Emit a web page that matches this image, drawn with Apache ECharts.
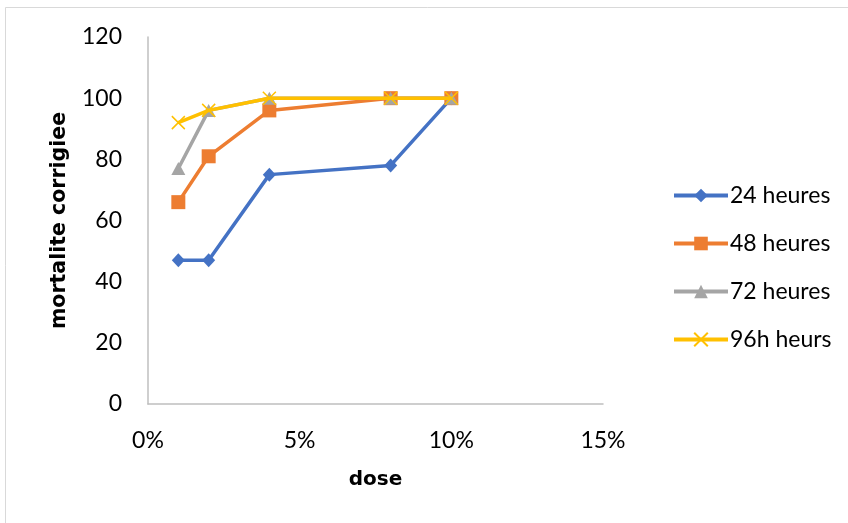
<!DOCTYPE html>
<html>
<head>
<meta charset="utf-8">
<script src="https://cdn.jsdelivr.net/npm/echarts@6/dist/echarts.min.js"></script>
<style>
  html, body { margin: 0; padding: 0; background: #fff; }
  #chart { width: 848px; height: 523px; }
</style>
</head>
<body>
<div id="chart"></div>
<script>
// Doses (fraction) and corrected mortality per exposure time
const doses = [0.01, 0.02, 0.04, 0.08, 0.10];
const h24 = [47, 47, 75, 78, 100];
const h48 = [66, 81, 96, 100, 100];
const h72 = [77, 96, 100, 100, 100];
const h96 = [92, 96, 100, 100, 100];
const seriesNames = ['24 heures', '48 heures', '72 heures', '96h heurs'];
const yTicks = [0, 20, 40, 60, 80, 100, 120];
const xTicks = [0, 0.05, 0.10, 0.15];

const FONT = 'Lato, "Open Sans", sans-serif';
const TITLE_FONT = '"DejaVu Sans", sans-serif';
const colors = ['#4472C4', '#ED7D31', '#A5A5A5', '#FFC000'];
const crossPath = 'path://M0,0L10,10M10,0L0,10';

function pairs(vals) {
  return doses.map((d, i) => [d, vals[i]]);
}

const chart = echarts.init(document.getElementById('chart'), null, { renderer: 'canvas' });

const symbols = ['diamond', 'rect', 'triangle', crossPath];
const sizes = [[13, 14], 14, [14, 13], 13];
const values = [h24, h48, h72, h96];

chart.setOption({
  animation: false,
  backgroundColor: '#ffffff',
  graphic: [{
    type: 'rect',
    shape: { x: 5.5, y: 7.5, width: 900, height: 600 },
    style: { fill: 'none', stroke: '#D9D9D9', lineWidth: 1 },
    silent: true
  }],
  grid: { left: 148, right: 245, top: 37, bottom: 119, containLabel: false },
  xAxis: {
    type: 'value',
    min: xTicks[0],
    max: xTicks[xTicks.length - 1],
    interval: 0.05,
    name: 'dose',
    nameLocation: 'middle',
    nameGap: 66,
    nameMoveOverlap: false,
    nameTextStyle: { fontFamily: TITLE_FONT, fontSize: 20, fontWeight: 'bold', color: '#000' },
    axisLine: { lineStyle: { color: '#BFBFBF', width: 1.5 } },
    axisTick: { show: false },
    splitLine: { show: false },
    axisLabel: {
      margin: 25,
      fontFamily: FONT, fontSize: 23, color: '#000',
      formatter: v => Math.round(v * 100) + '%'
    }
  },
  yAxis: {
    type: 'value',
    min: yTicks[0],
    max: yTicks[yTicks.length - 1],
    interval: 20,
    name: 'mortalite corrigiee',
    nameLocation: 'middle',
    nameGap: 78,
    nameMoveOverlap: false,
    nameTextStyle: { fontFamily: TITLE_FONT, fontSize: 20.5, fontWeight: 'bold', color: '#000' },
    axisLine: { show: true, lineStyle: { color: '#BFBFBF', width: 1.5 } },
    axisTick: { show: false },
    splitLine: { show: false },
    axisLabel: { margin: 26, fontFamily: FONT, fontSize: 23, color: '#000' }
  },
  legend: {
    orient: 'vertical',
    left: 667,
    top: 179,
    itemWidth: 54,
    itemHeight: 17,
    itemGap: 25,
    lineStyle: { width: 4 },
    textStyle: { fontFamily: FONT, fontSize: 23, lineHeight: 23, color: '#000', padding: [0, 0, 0, -3] },
    data: seriesNames
  },
  series: seriesNames.map((name, i) => ({
    name: name,
    type: 'line',
    data: pairs(values[i]),
    symbol: symbols[i],
    symbolSize: sizes[i],
    showSymbol: true,
    z: 2 + i,
    lineStyle: { color: colors[i], width: 3.5 },
    itemStyle: i === 3
      ? { color: colors[i], borderColor: colors[i], borderWidth: 1.5 }
      : { color: colors[i] }
  }))
});
</script>
</body>
</html>
